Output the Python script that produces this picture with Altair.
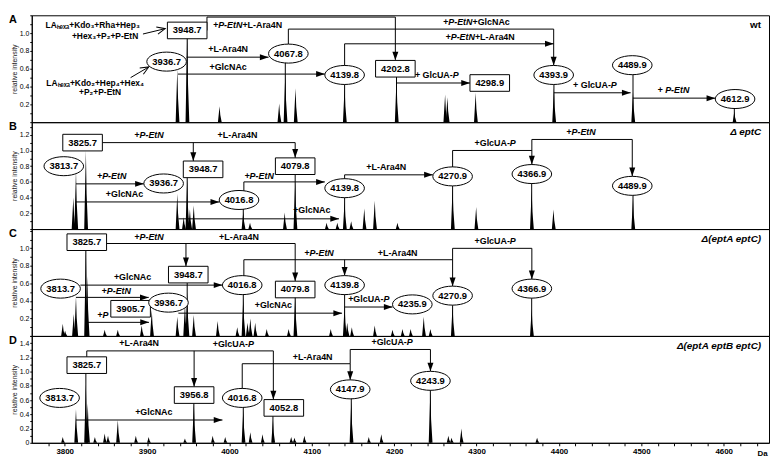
import altair as alt
import pandas as pd

# ---------------------------------------------------------------- layout / style
W, H = 745, 108
X_DOMAIN = [3760, 4655]
FONT = "Liberation Sans, Arial, Helvetica, sans-serif"
Y_TOP = {"A": 1.2, "B": 1.36, "C": 1.22, "D": 1.5}
Y_LABEL_RANGE = {"A": (0.05, 1.05), "B": (0.05, 1.25), "C": (0.05, 1.05), "D": (-0.05, 1.45)}
PANEL_TITLE = {"A": "wt", "B": "\u0394 eptC", "C": "\u0394(eptA eptC)", "D": "\u0394(eptA eptB eptC)"}

# ---------------------------------------------------------------- spectra (Da, relative intensity)
A_MZ = [3936.7, 3948.7, 3988.0, 4060.4, 4067.8, 4080.2, 4139.8, 4202.8, 4261.8, 4264.6, 4298.9, 4393.9, 4489.9, 4612.9]
A_INT = [0.60, 1.00, 0.18, 0.21, 0.55, 0.38, 0.40, 0.49, 0.31, 0.28, 0.33, 0.38, 0.34, 0.12]

B_MZ = [3810.5, 3813.7, 3825.7, 3936.7, 3944.5, 3948.7, 3952.0, 3956.7, 4016.8, 4025.0, 4067.1, 4079.8,
        4118.0, 4131.0, 4139.8, 4147.8, 4163.7, 4176.4, 4204.0, 4270.9, 4299.5, 4366.9, 4393.4, 4489.9]
B_INT = [0.40, 0.74, 1.00, 0.45, 0.15, 0.64, 0.25, 0.30, 0.22, 0.08, 0.21, 0.60,
         0.08, 0.08, 0.36, 0.10, 0.26, 0.36, 0.08, 0.53, 0.28, 0.49, 0.25, 0.39]

C_MZ = [3797.7, 3800.5, 3811.0, 3813.7, 3825.7, 3827.5, 3848.6, 3864.5, 3893.5, 3905.7, 3936.7, 3946.0,
        3948.7, 3956.7, 3985.7, 4009.5, 4016.8, 4022.0, 4025.4, 4031.3, 4045.3, 4071.9, 4079.8, 4123.0,
        4139.8, 4143.0, 4148.6, 4176.4, 4198.0, 4210.1, 4220.0, 4235.9, 4244.0, 4270.9, 4366.9]
C_INT = [0.14, 0.06, 0.25, 0.45, 1.00, 0.68, 0.07, 0.07, 0.12, 0.30, 0.22, 0.37,
         0.50, 0.24, 0.17, 0.10, 0.44, 0.15, 0.20, 0.15, 0.08, 0.08, 0.45, 0.08,
         0.35, 0.15, 0.10, 0.12, 0.07, 0.08, 0.08, 0.22, 0.08, 0.35, 0.31]

D_MZ = [3797.7, 3813.7, 3825.7, 3828.0, 3836.7, 3848.6, 3852.6, 3864.5, 3886.4, 3902.0, 3946.0, 3956.8,
        3979.7, 3994.9, 4016.8, 4025.4, 4040.2, 4052.8, 4075.0, 4079.0, 4091.0, 4147.9, 4169.2, 4184.4,
        4243.9, 4265.8, 4269.7, 4281.6, 4373.5]
D_INT = [0.08, 0.47, 0.82, 0.55, 0.08, 0.13, 0.10, 0.32, 0.10, 0.08, 0.06, 0.55,
         0.10, 0.08, 0.46, 0.15, 0.12, 0.32, 0.08, 0.07, 0.10, 0.59, 0.08, 0.12,
         0.73, 0.10, 0.07, 0.20, 0.07]

# ---------------------------------------------------------------- annotations (data coordinates)
# boxed / ellipsed mass labels: (text, Da, intensity)
A_BOX = [("3948.7", 3948.7, 1.03), ("4202.8", 4201.4, 0.60), ("4298.9", 4316.0, 0.44)]
A_ELL = [("3936.7", 3923.7, 0.68), ("4067.8", 4071.5, 0.77), ("4139.8", 4139.8, 0.53),
         ("4393.9", 4393.6, 0.53), ("4489.9", 4489.0, 0.64), ("4612.9", 4613.8, 0.26)]
B_BOX = [("3825.7", 3821.7, 1.10), ("3948.7", 3968.0, 0.76), ("4079.8", 4079.8, 0.80)]
B_ELL = [("3813.7", 3798.9, 0.80), ("3936.7", 3920.1, 0.58), ("4016.8", 4011.6, 0.37), ("4139.8", 4139.8, 0.52),
         ("4270.9", 4270.9, 0.67), ("4366.9", 4367.1, 0.70), ("4489.9", 4489.0, 0.55)]
C_BOX = [("3825.7", 3826.8, 1.07), ("3948.7", 3950.0, 0.70), ("3905.7", 3880.0, 0.31), ("4079.8", 4079.8, 0.53)]
C_ELL = [("3813.7", 3795.0, 0.54), ("3936.7", 3926.0, 0.38), ("4016.8", 4015.5, 0.58), ("4139.8", 4139.8, 0.58),
         ("4235.9", 4222.0, 0.36), ("4270.9", 4270.9, 0.46), ("4366.9", 4367.1, 0.54)]
D_BOX = [("3825.7", 3826.8, 1.09), ("3956.8", 3957.1, 0.67), ("4052.8", 4066.0, 0.49)]
D_ELL = [("3813.7", 3793.8, 0.63), ("4016.8", 4015.5, 0.63), ("4147.9", 4146.6, 0.75), ("4243.9", 4244.0, 0.87)]

# thin stems from a peak up to its label: (Da, top intensity)
A_STEM = [(3948.7, 1.03), (4067.8, 0.77), (4139.8, 0.53), (4202.8, 0.60), (4393.9, 0.53), (4489.9, 0.64), (4612.9, 0.26)]
B_STEM = [(4079.8, 0.80), (4270.9, 0.67), (4366.9, 0.70), (4489.9, 0.55), (4139.8, 0.52), (4016.8, 0.37), (3948.7, 0.70)]
C_STEM = [(3825.7, 1.07), (3948.7, 0.70), (4079.8, 0.53), (4016.8, 0.58), (4139.8, 0.58), (4270.9, 0.46), (4366.9, 0.54)]
D_STEM = [(3825.7, 1.09), (3956.8, 0.67), (4052.8, 0.49), (4016.8, 0.63), (4147.9, 0.75), (4243.9, 0.87)]

# connector segments: (Da1, int1, Da2, int2)
A_SEG = [(3972.7, 1.03, 3972.7, 1.18), (3972.7, 1.18, 4201.4, 1.18), (4201.4, 1.18, 4201.4, 0.70),
         (3948.0, 0.73, 4047.5, 0.73),
         (3937.5, 0.54, 4115.8, 0.54),
         (4071.5, 0.77, 4071.5, 1.045), (4071.5, 1.045, 4393.6, 1.045), (4393.6, 1.045, 4393.6, 0.64),
         (4139.8, 0.53, 4139.8, 0.88), (4139.8, 0.88, 4393.6, 0.88),
         (4202.8, 0.44, 4292.0, 0.44),
         (4393.9, 0.33, 4487.0, 0.33),
         (4489.9, 0.27, 4589.8, 0.27),
         (3895.0, 0.99, 3922.0, 1.05), (3880.0, 0.50, 3902.0, 0.62)]
B_SEG = [(3845.7, 1.10, 4079.8, 1.10), (3956.1, 1.10, 3956.1, 0.867), (4079.8, 1.10, 4079.8, 0.907),
         (3813.7, 0.575, 3896.1, 0.575),
         (3813.7, 0.345, 3987.6, 0.345),
         (3938.0, 0.13, 4133.0, 0.13),
         (4017.5, 0.37, 4017.5, 0.60), (4017.5, 0.60, 4115.8, 0.60),
         (4139.8, 0.52, 4139.8, 0.69), (4139.8, 0.69, 4246.9, 0.69),
         (4270.9, 0.67, 4270.9, 1.0), (4270.9, 1.0, 4367.1, 1.0),
         (4367.1, 1.14, 4367.1, 0.82), (4367.1, 1.14, 4489.0, 1.14), (4489.0, 1.14, 4489.0, 0.67)]
C_SEG = [(3850.8, 1.055, 4079.8, 1.055), (3947.2, 1.055, 3947.2, 0.796), (4079.8, 1.055, 4079.8, 0.626),
         (3819.0, 0.58, 3991.5, 0.58),
         (3813.7, 0.44, 3902.0, 0.44),
         (3826.8, 0.155, 3902.3, 0.155),
         (3938.0, 0.26, 4136.7, 0.26),
         (4017.5, 0.58, 4017.5, 0.87), (4017.5, 0.87, 4270.9, 0.87), (4139.8, 0.87, 4139.8, 0.688),
         (4270.9, 1.0, 4270.9, 0.568), (4270.9, 1.0, 4367.1, 1.0), (4367.1, 1.0, 4367.1, 0.648),
         (4139.8, 0.33, 4198.0, 0.33)]
D_SEG = [(3826.8, 1.09, 3826.8, 1.29), (3826.8, 1.29, 4053.3, 1.29), (3957.1, 1.29, 3957.1, 0.788),
         (4053.3, 1.29, 4053.3, 0.608),
         (3813.7, 0.32, 3991.5, 0.32),
         (4015.5, 0.63, 4015.5, 1.11), (4015.5, 1.11, 4146.6, 1.11), (4146.6, 1.11, 4146.6, 0.883),
         (4146.6, 1.11, 4146.6, 1.31), (4146.6, 1.31, 4244.0, 1.31), (4244.0, 1.31, 4244.0, 1.003)]

# arrow tips: (Da, intensity, direction d=down r=right)
A_ARROW = [(4201.4, 0.694, "d"), (4047.5, 0.73, "r"), (4115.8, 0.54, "r"), (4393.6, 0.637, "d"),
           (4393.6, 0.88, "r"), (4292.0, 0.44, "r"), (4487.0, 0.33, "r"), (4589.8, 0.27, "r")]
B_ARROW = [(3956.1, 0.867, "d"), (4079.8, 0.907, "d"), (4367.1, 0.821, "d"), (4489.0, 0.671, "d"),
           (3896.1, 0.575, "r"), (3987.6, 0.345, "r"), (4133.0, 0.13, "r"), (4115.8, 0.60, "r"), (4246.9, 0.69, "r")]
C_ARROW = [(3947.2, 0.796, "d"), (4079.8, 0.626, "d"), (4139.8, 0.688, "d"), (4270.9, 0.568, "d"),
           (4367.1, 0.648, "d"), (3991.5, 0.58, "r"), (3902.0, 0.44, "r"), (3902.3, 0.155, "r"),
           (4136.7, 0.26, "r"), (4198.0, 0.33, "r")]
D_ARROW = [(3957.1, 0.788, "d"), (4053.3, 0.608, "d"), (4146.6, 0.883, "d"), (4244.0, 1.003, "d"), (3991.5, 0.32, "r")]

# modification notes: (text, Da, intensity, style)
#   style: n = upright centred, i = italic centred,
#          ir / nr = italic / upright ending at x,  il / nl = italic / upright starting at x
A_NOTE = [("+P-EtN", 4015.7, 1.09, "ir"), ("+L-Ara4N", 4015.7, 1.09, "nl"),
          ("+L-Ara4N", 3998.4, 0.82, "n"), ("+GlcNAc", 3998.4, 0.62, "n"),
          ("+P-EtN", 4295.0, 1.12, "ir"), ("+GlcNAc", 4295.0, 1.12, "nl"),
          ("+P-EtN", 4298.0, 0.955, "ir"), ("+L-Ara4N", 4298.0, 0.955, "nl"),
          ("+ GlcUA-", 4271.0, 0.53, "nr"), ("P", 4271.0, 0.53, "il"),
          ("+ GlcUA-", 4463.0, 0.42, "nr"), ("P", 4463.0, 0.42, "il"),
          ("+ P-EtN", 4539.0, 0.36, "i")]
B_NOTE = [("+P-EtN", 3902.4, 1.20, "i"), ("+L-Ara4N", 4009.7, 1.20, "n"), ("+P-EtN", 3857.0, 0.675, "i"),
          ("+GlcNAc", 3872.6, 0.44, "n"), ("+GlcNAc", 4100.0, 0.24, "n"), ("+P-EtN", 4036.0, 0.68, "i"),
          ("+L-Ara4N", 4190.3, 0.79, "n"), ("+GlcUA-", 4340.4, 1.09, "nr"), ("P", 4340.4, 1.09, "il"),
          ("+P-EtN", 4426.8, 1.23, "i")]
C_NOTE = [("+P-EtN", 3902.4, 1.13, "i"), ("+L-Ara4N", 4011.6, 1.13, "n"), ("+GlcNAc", 3882.4, 0.67, "n"),
          ("+P-EtN", 3862.6, 0.515, "i"), ("+P", 3846.2, 0.24, "i"), ("+GlcNAc", 4053.3, 0.35, "n"),
          ("+P-EtN", 4108.8, 0.95, "i"), ("+L-Ara4N", 4204.2, 0.95, "n"),
          ("+GlcUA-", 4340.4, 1.08, "nr"), ("P", 4340.4, 1.08, "il"),
          ("+GlcUA-", 4187.0, 0.42, "nr"), ("P", 4187.0, 0.42, "il")]
D_NOTE = [("+L-Ara4N", 3890.3, 1.40, "n"), ("+GlcUA-", 4022.6, 1.39, "nr"), ("P", 4022.6, 1.39, "il"),
          ("+GlcNAc", 3908.2, 0.43, "n"), ("+L-Ara4N", 4101.0, 1.21, "n"),
          ("+GlcUA-", 4215.3, 1.41, "nr"), ("P", 4215.3, 1.41, "il")]

# structure notes of panel A and their open arrows
A_STRUCT = [("LA\u2095\u2091\u2093\u2090+Kdo\u2083+Rha+Hep\u2083", 3834.0, 1.09),
            ("+Hex\u2083+P\u2082+P-EtN", 3849.0, 0.97),
            ("LA\u2095\u2091\u2093\u2090+Kdo\u2082+Hep\u2084+Hex\u2084", 3837.0, 0.44),
            ("+P\u2082+P-EtN", 3843.0, 0.34)]
A_OPEN_ARROW = [(3922.0, 1.05, 256.6), (3902.0, 0.62, 239.7)]

# ---------------------------------------------------------------- shapes
ARROW_PATH = "M0 0 L-0.55 -1.6 L0.55 -1.6 Z"
OPEN_HEAD_PATH = "M-0.7 -1.6 L0 0 L0.7 -1.6"
BOX_PATH = "M-1 -0.42 L1 -0.42 L1 0.42 L-1 0.42 Z"
ELL_PATH = ("M-1 0 C-1 -0.265 -0.552 -0.48 0 -0.48 C0.552 -0.48 1 -0.265 1 0 "
            "C1 0.265 0.552 0.48 0 0.48 C-0.552 0.48 -1 0.265 -1 0 Z")
PEAK_PROFILE = [(-2.0, 0.0), (0.0, 1.0), (0.9, 0.45), (2.6, 0.0)]
NOTE_STYLES = {"n": ("normal", "center"), "i": ("italic", "center"),
               "nr": ("normal", "right"), "ir": ("italic", "right"),
               "nl": ("normal", "left"), "il": ("italic", "left")}


def peak_table(mz, inten):
    rows = []
    for i, (m, h) in enumerate(zip(mz, inten)):
        for dm, f in PEAK_PROFILE:
            rows.append({"pk": i, "x": m + dm, "y": h * f})
    return pd.DataFrame(rows)


def panel(key, mz, inten, boxes, ells, stems, segs, arrows, notes, show_x=False, struct=None, open_arrows=None):
    ytop = Y_TOP[key]
    lo, hi = Y_LABEL_RANGE[key]
    xs = alt.Scale(domain=X_DOMAIN, nice=False, zero=False)
    ys = alt.Scale(domain=[0, ytop], nice=False, zero=False)
    yvals = [round(0.1 * i, 1) for i in range(0, int(ytop * 10 + 1e-9) + 1)]
    lexpr = (f"(round(datum.value*10) % 2 == 0 && datum.value > {lo} && datum.value < {hi}) ? "
             "(datum.value < 0.05 ? '0' : format(datum.value, '.1f')) : ''")
    yaxis = alt.Axis(values=yvals, labelExpr=lexpr, title="relative intensity", titleFontSize=7,
                     titleFontWeight="normal", titleFont=FONT, labelFont=FONT, labelFontSize=7,
                     tickSize=2, labelPadding=1, titlePadding=2, grid=False, labelOverlap=False,
                     domainColor="black", tickColor="black", labelColor="black", titleColor="#222")
    if show_x:
        xaxis = alt.Axis(values=list(range(3780, 4655, 20)), format="d",
                         labelExpr="datum.value % 100 == 0 ? datum.label : ''",
                         labelFont=FONT, labelFontSize=8, labelFontWeight="bold", tickSize=3,
                         labelPadding=2, labelOverlap=False, grid=False, domainColor="black",
                         tickColor="black", labelColor="black", title="Da", titleFont=FONT,
                         titleFontSize=8, titleFontWeight="bold", titleX=W - 2, titleY=7,
                         titleAlign="right", titleBaseline="top")
    else:
        xaxis = None

    def X(f):
        return alt.X(f, scale=xs, axis=xaxis)

    def Y(f):
        return alt.Y(f, scale=ys, axis=yaxis)

    layers = []
    layers.append(alt.Chart(peak_table(mz, inten)).mark_area(color="black", interpolate="linear").encode(
        x=X("x:Q"), y=alt.Y("y:Q", scale=ys, stack=None, axis=yaxis), detail="pk:N"))

    st = pd.DataFrame(stems, columns=["x", "top"])
    st["base"] = 0.0
    layers.append(alt.Chart(st).mark_rule(color="black", strokeWidth=1).encode(
        x=X("x:Q"), y=Y("base:Q"), y2="top:Q"))

    sg = pd.DataFrame(segs, columns=["x1", "y1", "x2", "y2"])
    layers.append(alt.Chart(sg).mark_rule(color="black", strokeWidth=1).encode(
        x=X("x1:Q"), x2="x2:Q", y=Y("y1:Q"), y2="y2:Q"))

    ar = pd.DataFrame(arrows, columns=["x", "y", "dir"])
    ar["ang"] = ar["dir"].map({"d": 0, "r": 270})
    layers.append(alt.Chart(ar).mark_point(shape=ARROW_PATH, size=121, filled=True, color="black",
                                           opacity=1, strokeWidth=0).encode(
        x=X("x:Q"), y=Y("y:Q"), angle=alt.Angle("ang:Q", scale=None)))

    if open_arrows:
        oa = pd.DataFrame(open_arrows, columns=["x", "y", "ang"])
        layers.append(alt.Chart(oa).mark_point(shape=OPEN_HEAD_PATH, size=110, filled=False,
                                               color="black", opacity=1, strokeWidth=1).encode(
            x=X("x:Q"), y=Y("y:Q"), angle=alt.Angle("ang:Q", scale=None)))

    bx = pd.DataFrame(boxes, columns=["t", "x", "y"])
    layers.append(alt.Chart(bx).mark_point(shape=BOX_PATH, size=1600, filled=True, fill="white",
                                           stroke="black", strokeWidth=1, opacity=1).encode(
        x=X("x:Q"), y=Y("y:Q")))
    el = pd.DataFrame(ells, columns=["t", "x", "y"])
    layers.append(alt.Chart(el).mark_point(shape=ELL_PATH, size=1600, filled=True, fill="white",
                                           stroke="black", strokeWidth=1, opacity=1).encode(
        x=X("x:Q"), y=Y("y:Q")))

    lab = pd.concat([bx, el], ignore_index=True)
    layers.append(alt.Chart(lab).mark_text(font=FONT, fontSize=9.5, fontWeight="bold", color="black").encode(
        x=X("x:Q"), y=Y("y:Q"), text="t:N"))

    nt = pd.DataFrame(notes, columns=["t", "x", "y", "s"])
    for code, (style, align) in NOTE_STYLES.items():
        sub = nt[nt["s"] == code]
        if len(sub):
            layers.append(alt.Chart(sub).mark_text(font=FONT, fontSize=9, fontWeight="bold",
                                                   fontStyle=style, align=align, color="black").encode(
                x=X("x:Q"), y=Y("y:Q"), text="t:N"))

    if struct:
        sd = pd.DataFrame(struct, columns=["t", "x", "y"])
        layers.append(alt.Chart(sd).mark_text(font=FONT, fontSize=8.5, fontWeight="bold", color="black").encode(
            x=X("x:Q"), y=Y("y:Q"), text="t:N"))

    layers.append(alt.Chart(pd.DataFrame({"t": [key]})).mark_text(
        font=FONT, fontSize=11, fontWeight="bold", align="left", baseline="top", color="black").encode(
        x=alt.value(-23), y=alt.value(-1), text="t:N"))
    layers.append(alt.Chart(pd.DataFrame({"t": [PANEL_TITLE[key]]})).mark_text(
        font=FONT, fontSize=10, fontWeight="bold", fontStyle="normal" if key == "A" else "italic",
        align="right", baseline="top", color="black").encode(
        x=alt.value(W - 8), y=alt.value(5), text="t:N"))

    return alt.layer(*layers).properties(width=W, height=H)


pA = panel("A", A_MZ, A_INT, A_BOX, A_ELL, A_STEM, A_SEG, A_ARROW, A_NOTE,
           struct=A_STRUCT, open_arrows=A_OPEN_ARROW)
pB = panel("B", B_MZ, B_INT, B_BOX, B_ELL, B_STEM, B_SEG, B_ARROW, B_NOTE)
pC = panel("C", C_MZ, C_INT, C_BOX, C_ELL, C_STEM, C_SEG, C_ARROW, C_NOTE)
pD = panel("D", D_MZ, D_INT, D_BOX, D_ELL, D_STEM, D_SEG, D_ARROW, D_NOTE, show_x=True)

chart = (alt.vconcat(pA, pB, pC, pD, spacing=0, bounds="flush")
         .properties(padding={"left": 0, "top": 0, "right": 0, "bottom": 0}, background="white")
         .configure_view(stroke="black", strokeWidth=1))

chart.save("out.html", embed_options={"renderer": "svg", "actions": False})
